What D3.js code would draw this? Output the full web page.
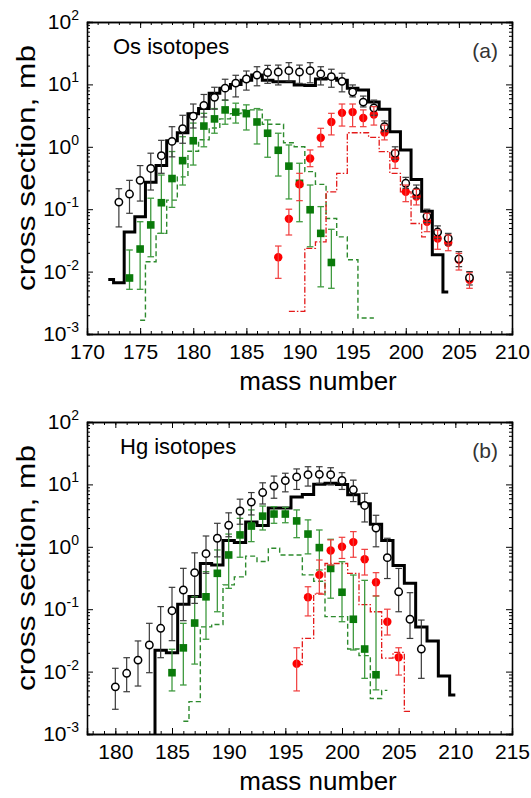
<!DOCTYPE html>
<html><head><meta charset="utf-8">
<script src="https://cdn.jsdelivr.net/npm/d3@7"></script>
<style>body{margin:0;background:#fff} svg{display:block} text{font-family:"Liberation Sans",Arial,sans-serif}</style>
</head><body><svg id="c" width="531" height="798"></svg>
<script>
// ---------------- Panel (a): Os isotopes ----------------
const osExpMass = [173,174,175,176,177,178,179,180,181,182,183,184,185,186,187,188,189,190,191,192,193,194,195,196,197,198,199,200,201,202,203,204,205,206];
const osExpVal  = [0.13,0.175,0.29,0.45,0.72,1.22,1.95,3.1,4.6,6.2,8.7,10.5,12.2,14.1,15.5,15.8,16.6,15.8,16.6,14.7,13.3,11.2,7.55,5.2,4.2,2.1,0.79,0.26,0.19,0.077,0.043,0.034,0.016,0.008];
const osExpHi   = [0.213,0.29,0.50,0.79,1.27,2.1,3.2,4.85,6.9,9.0,12.1,14.0,16.4,19.2,20.2,20.4,22.3,20.4,22.3,19.2,17.5,15.1,9.8,6.5,5.6,2.6,1.0,0.324,0.244,0.10,0.054,0.041,0.0209,0.0100];
const osExpLo   = [0.052,0.086,0.135,0.203,0.376,0.69,1.14,2.0,3.0,4.0,5.6,6.3,8.1,9.5,10.4,9.8,11.3,10.4,10.6,9.8,9.0,7.6,6.3,4.35,3.2,1.75,0.63,0.216,0.15,0.061,0.034,0.0267,0.012,0.0061];

const osFragMass = [174,175,176,177,178,179,180,181,182,183,184,185,186,187,188,189,190,191,192,193];
const osFragVal  = [0.0079,0.023,0.056,0.127,0.31,0.60,1.25,2.15,2.8,3.9,3.6,3.4,2.5,1.65,0.88,0.49,0.26,0.098,0.041,0.014];
const osFragHi   = [0.0222,0.063,0.15,0.353,0.84,1.45,2.4,3.44,4.1,5.6,5.0,4.7,4.1,2.7,1.65,1.07,0.545,0.244,0.11,0.0476];
const osFragLo   = [0.0052,0.0052,0.0173,0.041,0.107,0.244,0.51,1.0,1.65,2.3,2.4,1.86,1.11,0.68,0.34,0.146,0.063,0.025,0.0057,0.0054];

const osFisMass = [188,189,190,191,192,193,194,195,196,197,198,199,200,201,202,203,204,205,206];
const osFisVal  = [0.017,0.070,0.25,0.65,1.4,2.5,3.5,3.6,2.9,3.3,1.7,0.65,0.19,0.16,0.063,0.034,0.029,0.0155,0.0074];
const osFisHi   = [0.0257,0.10,0.376,0.89,1.98,3.44,4.85,4.85,3.9,4.4,2.23,0.89,0.244,0.208,0.086,0.0464,0.0386,0.0196,0.0096];
const osFisLo   = [0.0078,0.0386,0.137,0.48,1.0,1.55,2.15,2.1,2.1,2.23,1.29,0.45,0.132,0.117,0.0436,0.0228,0.0216,0.0106,0.0054];

const osTotCalcMass = [172,173,174,175,176,177,178,179,180,181,182,183,184,185,186,187,188,189,190,191,192,193,194,195,196,197,198,199,200,201,202,203,204];
const osTotCalcVal  = [0.0075,0.0066,0.043,0.076,0.27,0.50,1.25,1.68,3.4,4.1,7.2,8.7,10.0,11.7,14.1,11.7,11.0,11.0,9.8,9.6,12.2,12.6,11.7,8.7,8.1,5.2,4.0,1.74,0.89,0.30,0.093,0.0186,0.0047];

const osFragCalcMass = [175,176,177,178,179,180,181,182,183,184,185,186,187,188,189,190,191,192,193,194,195,196,197];
const osFragCalcVal  = [0.00166,0.0144,0.041,0.14,0.33,0.85,1.3,2.0,2.8,3.4,3.9,3.9,2.3,2.3,1.16,1.0,0.40,0.25,0.071,0.036,0.0155,0.0018,0.0018];

const osFisCalcMass = [189,190,191,192,193,194,195,196,197,198,199,200,201,202];
const osFisCalcVal  = [0.0023,0.0023,0.0236,0.03,0.19,0.376,1.68,1.68,1.42,0.84,0.376,0.19,0.059,0.036];

const osXTicks = [170,175,180,185,190,195,200,205,210];

// ---------------- Panel (b): Hg isotopes ----------------
const hgExpMass = [180,181,182,183,184,185,186,187,188,189,190,191,192,193,194,195,196,197,198,199,200,201,202,203,204,205,206,207];
const hgExpVal  = [0.0057,0.0094,0.0153,0.0267,0.0494,0.0946,0.203,0.385,0.776,1.37,2.21,3.75,5.2,7.4,9.4,11.5,13.2,14.3,14.5,14.3,11.6,8.2,4.6,2.0,0.67,0.19,0.069,0.023];
const hgExpHi   = [0.0113,0.0167,0.031,0.0594,0.11,0.224,0.452,0.80,1.49,2.38,3.5,5.8,7.4,10.6,13.6,15.1,17.7,19.2,19.2,18.5,15.4,11.7,7.2,3.2,1.37,0.45,0.184,0.067];
const hgExpLo   = [0.00249,0.00476,0.00587,0.0096,0.0167,0.0313,0.0655,0.124,0.376,0.69,1.45,2.3,3.24,4.85,6.0,7.6,8.3,9.4,10.4,9.8,8.3,5.3,2.5,1.0,0.31,0.091,0.034,0.0078];

const hgFragMass = [185,186,187,188,189,190,191,192,193,194,195,196,197,198,199,200,201,202,203];
const hgFragVal  = [0.0096,0.024,0.060,0.158,0.376,0.74,1.55,2.15,3.1,3.35,3.35,2.6,1.6,0.97,0.45,0.187,0.069,0.023,0.0089];
const hgFragHi   = [0.0228,0.0594,0.158,0.40,0.89,1.6,2.86,3.9,4.5,4.4,4.3,3.9,2.7,1.86,1.32,0.577,0.353,0.29,0.163];
const hgFragLo   = [0.0049,0.0061,0.0132,0.033,0.091,0.216,0.68,1.21,1.86,2.38,2.43,1.4,0.77,0.425,0.15,0.063,0.0222,0.0078,0.0051];

const hgFisMass = [196,197,198,199,200,201,202,203,204,205];
const hgFisVal  = [0.0134,0.155,0.355,0.87,1.0,1.19,0.63,0.27,0.063,0.017];
const hgFisHi   = [0.0241,0.229,0.614,1.29,1.42,1.75,0.91,0.385,0.10,0.0241];
const hgFisLo   = [0.0049,0.078,0.18,0.51,0.65,0.68,0.353,0.163,0.0386,0.0088];

const hgTotCalcMass = [183,184,185,186,187,188,189,190,191,192,193,194,195,196,197,198,199,200,201,202,203,204,205,206,207,208,209,210];
const hgTotCalcVal  = [0.0001,0.022,0.020,0.12,0.16,0.54,0.51,1.26,1.17,2.5,2.2,4.2,4.2,6.3,6.9,10.1,10.4,10.0,6.8,4.9,2.3,1.26,0.50,0.26,0.052,0.031,0.0085,0.0042];

const hgFragCalcMass = [186,187,188,189,190,191,192,193,194,195,196,197,198,199,200,201,202,203,204];
const hgFragCalcVal  = [0.0016,0.0033,0.052,0.057,0.245,0.33,0.71,0.58,0.95,0.74,0.74,0.355,0.28,0.076,0.076,0.023,0.018,0.0037,0.0050];

const hgFisCalcMass = [196,197,198,199,200,201,202,203,204,205,206];
const hgFisCalcVal  = [0.013,0.034,0.175,0.54,0.54,0.376,0.118,0.091,0.0164,0.0203,0.0023];

const hgXTicks = [180,185,190,195,200,205,210,215];

const yExponents = [-3,-2,-1,0,1,2];

// ---------------- drawing ----------------
const svg = d3.select("#c");
const zip = (m, v, lo, hi) => m.map((d,i)=>({m:d, v:v[i], lo: lo? lo[i]:null, hi: hi? hi[i]:null}));

function panel(cfg){
  const g = svg.append("g");
  const x = d3.scaleLinear().domain(cfg.xDomain).range([87,512]);
  const y = d3.scaleLog().domain([1e-3,1e2]).range([cfg.bottom, cfg.top]);
  const clipId = "clip"+cfg.id;
  svg.append("clipPath").attr("id", clipId).append("rect")
    .attr("x",87).attr("y",cfg.top).attr("width",425).attr("height",cfg.bottom-cfg.top);
  const plot = g.append("g").attr("clip-path", `url(#${clipId})`);

  const line = d3.line().x(d=>x(d.m)).y(d=>y(d.v)).curve(d3.curveStep);
  plot.append("path").datum(zip(cfg.fragCalcM, cfg.fragCalcV))
    .attr("d", line).attr("fill","none").attr("stroke","#2d8a2d").attr("stroke-width",1.4).attr("stroke-dasharray","5,3");
  plot.append("path").datum(zip(cfg.fisCalcM, cfg.fisCalcV))
    .attr("d", line).attr("fill","none").attr("stroke","#e41a1a").attr("stroke-width",1.3).attr("stroke-dasharray","6,2,1.5,2");
  plot.append("path").datum(zip(cfg.totCalcM, cfg.totCalcV))
    .attr("d", line).attr("fill","none").attr("stroke","#000").attr("stroke-width",3).attr("stroke-linejoin","miter");

  function errbars(data, color, width){
    const eb = plot.append("g").attr("stroke", color).attr("stroke-width", width);
    data.forEach(d=>{
      eb.append("line").attr("x1",x(d.m)).attr("x2",x(d.m)).attr("y1",y(d.lo)).attr("y2",y(d.hi));
      eb.append("line").attr("x1",x(d.m)-3.3).attr("x2",x(d.m)+3.3).attr("y1",y(d.lo)).attr("y2",y(d.lo));
      eb.append("line").attr("x1",x(d.m)-3.3).attr("x2",x(d.m)+3.3).attr("y1",y(d.hi)).attr("y2",y(d.hi));
    });
  }
  const frag = zip(cfg.fragM, cfg.fragV, cfg.fragLo, cfg.fragHi);
  const fis  = zip(cfg.fisM, cfg.fisV, cfg.fisLo, cfg.fisHi);
  const exp  = zip(cfg.expM, cfg.expV, cfg.expLo, cfg.expHi);

  errbars(frag, "#3f9a3f", 1.3);
  plot.append("g").selectAll("rect").data(frag).join("rect")
    .attr("x", d=>x(d.m)-3.8).attr("y", d=>y(d.v)-3.8).attr("width",7.6).attr("height",7.6).attr("fill","#0a7a0a");
  plot.append("g").selectAll("circle").data(fis).join("circle")
    .attr("cx", d=>x(d.m)).attr("cy", d=>y(d.v)).attr("r",4.2).attr("fill","#ff0000");
  errbars(exp, "#3a3a3a", 1.2);
  plot.append("g").selectAll("circle").data(exp).join("circle")
    .attr("cx", d=>x(d.m)).attr("cy", d=>y(d.v)).attr("r",3.7).attr("fill","#fff").attr("stroke","#000").attr("stroke-width",1.5);
  errbars(fis, "#f03c3c", 1.2);

  const xMinor = d3.range(Math.ceil(cfg.xDomain[0]), cfg.xDomain[1]+0.01, 1);
  const yMinor = [];
  yExponents.slice(0,-1).forEach(e=>{ for(let k=2;k<=9;k++) yMinor.push(k*Math.pow(10,e)); });
  const yMajor = yExponents.map(e=>Math.pow(10,e));

  const ax = g.append("g");
  const bottomMinor = d3.axisBottom(x).tickValues(xMinor).tickSize(-3).tickFormat("");
  const bottomMajor = d3.axisBottom(x).tickValues(cfg.xTicks).tickSize(-6).tickFormat(d3.format("d")).tickPadding(10);
  const topMinor = d3.axisTop(x).tickValues(xMinor).tickSize(-3).tickFormat("");
  const topMajor = d3.axisTop(x).tickValues(cfg.xTicks).tickSize(-6).tickFormat("");
  const leftMinor = d3.axisLeft(y).tickValues(yMinor).tickSize(-3).tickFormat("");
  const leftMajor = d3.axisLeft(y).tickValues(yMajor).tickSize(-6).tickFormat("");
  const rightMinor = d3.axisRight(y).tickValues(yMinor).tickSize(-3).tickFormat("");
  const rightMajor = d3.axisRight(y).tickValues(yMajor).tickSize(-6).tickFormat("");

  [[bottomMinor,`translate(0,${cfg.bottom})`],[bottomMajor,`translate(0,${cfg.bottom})`],
   [topMinor,`translate(0,${cfg.top})`],[topMajor,`translate(0,${cfg.top})`],
   [leftMinor,"translate(87,0)"],[leftMajor,"translate(87,0)"],
   [rightMinor,"translate(512,0)"],[rightMajor,"translate(512,0)"]].forEach(([a,t])=>{
     const s = ax.append("g").attr("transform",t).call(a);
     s.select(".domain").attr("stroke","#000").attr("stroke-width",1.3);
     s.selectAll(".tick line").attr("stroke","#000").attr("stroke-width",1);
     s.selectAll(".tick text").attr("font-size",21).attr("fill","#000").attr("font-family","Liberation Sans, Arial, sans-serif");
  });

  const yl = g.append("g");
  yMajor.forEach((v,i)=>{
    const t = yl.append("text").attr("x",79).attr("y",y(v)+7).attr("text-anchor","end").attr("font-size",21).attr("fill","#000");
    t.append("tspan").text("10");
    t.append("tspan").attr("dy",-9).attr("font-size",14).text(String(yExponents[i]));
  });

  g.append("text").attr("transform",`translate(35,${cfg.top+146}) rotate(-90)`)
    .attr("text-anchor","middle").attr("font-size",26).attr("fill","#000")
    .attr("textLength",246).attr("lengthAdjust","spacingAndGlyphs").text("cross section, mb");
  g.append("text").attr("x",318).attr("y",cfg.bottom+56).attr("text-anchor","middle").attr("font-size",26).attr("fill","#000").text("mass number");
  g.append("text").attr("x",cfg.titleX).attr("y",cfg.top+32).attr("font-size",22).attr("fill","#000").text(cfg.title);
  g.append("text").attr("x",498).attr("y",cfg.top+36).attr("text-anchor","end").attr("font-size",21).attr("fill","#333").text(cfg.tag);
}

panel({id:"a", xDomain:[170,210], top:22, bottom:334, xTicks:osXTicks, title:"Os isotopes", titleX:113, tag:"(a)",
  expM:osExpMass, expV:osExpVal, expLo:osExpLo, expHi:osExpHi,
  fragM:osFragMass, fragV:osFragVal, fragLo:osFragLo, fragHi:osFragHi,
  fisM:osFisMass, fisV:osFisVal, fisLo:osFisLo, fisHi:osFisHi,
  totCalcM:osTotCalcMass, totCalcV:osTotCalcVal,
  fragCalcM:osFragCalcMass, fragCalcV:osFragCalcVal,
  fisCalcM:osFisCalcMass, fisCalcV:osFisCalcVal});

panel({id:"b", xDomain:[177.5,215], top:422, bottom:734, xTicks:hgXTicks, title:"Hg isotopes", titleX:120, tag:"(b)",
  expM:hgExpMass, expV:hgExpVal, expLo:hgExpLo, expHi:hgExpHi,
  fragM:hgFragMass, fragV:hgFragVal, fragLo:hgFragLo, fragHi:hgFragHi,
  fisM:hgFisMass, fisV:hgFisVal, fisLo:hgFisLo, fisHi:hgFisHi,
  totCalcM:hgTotCalcMass, totCalcV:hgTotCalcVal,
  fragCalcM:hgFragCalcMass, fragCalcV:hgFragCalcVal,
  fisCalcM:hgFisCalcMass, fisCalcV:hgFisCalcVal});
</script></body></html>
